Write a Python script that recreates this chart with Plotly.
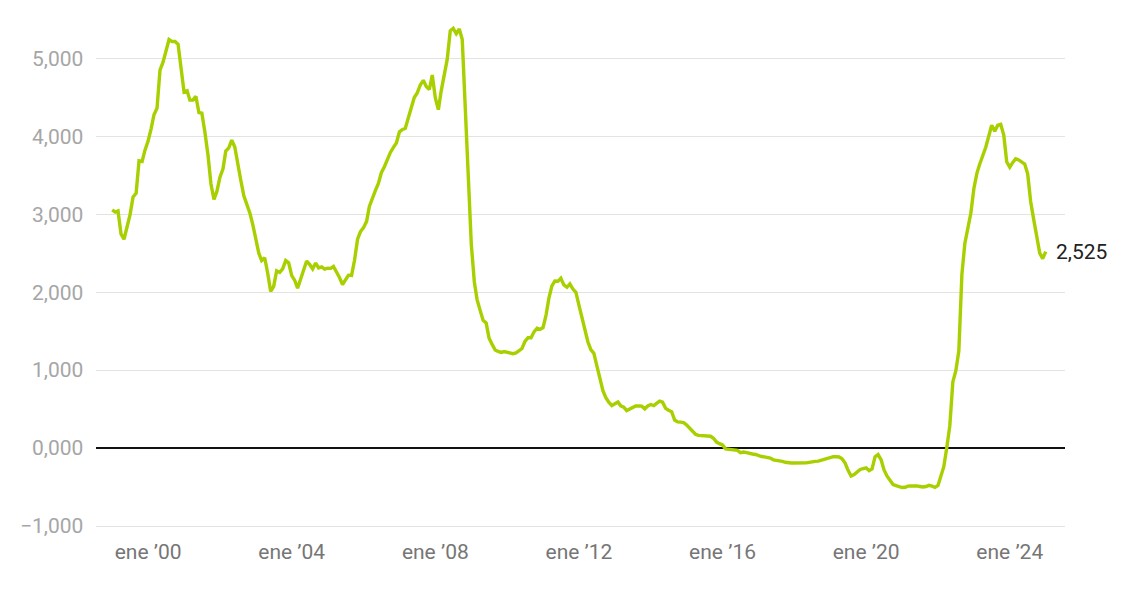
import plotly.graph_objects as go
import pandas as pd

start_month = "1999-01-01"
values = [
    # 1999
    3.062, 3.033, 3.048, 2.749, 2.684, 2.837, 2.997, 3.227, 3.273, 3.692, 3.684, 3.832,
    # 2000
    3.945, 4.106, 4.283, 4.368, 4.857, 4.959, 5.109, 5.250, 5.223, 5.224, 5.188, 4.881,
    # 2001
    4.574, 4.591, 4.471, 4.471, 4.521, 4.312, 4.303, 4.059, 3.770, 3.397, 3.196, 3.298,
    # 2002
    3.481, 3.589, 3.816, 3.859, 3.958, 3.868, 3.636, 3.442, 3.241, 3.129, 3.023, 2.871,
    # 2003
    2.707, 2.502, 2.410, 2.446, 2.254, 2.014, 2.076, 2.279, 2.258, 2.303, 2.410, 2.381,
    # 2004
    2.217, 2.155, 2.055, 2.163, 2.297, 2.404, 2.361, 2.302, 2.377, 2.316, 2.328, 2.301,
    # 2005
    2.312, 2.310, 2.335, 2.265, 2.193, 2.103, 2.168, 2.223, 2.220, 2.414, 2.684, 2.783,
    # 2006
    2.833, 2.914, 3.105, 3.221, 3.308, 3.401, 3.539, 3.615, 3.715, 3.799, 3.864, 3.921,
    # 2007
    4.064, 4.094, 4.106, 4.253, 4.373, 4.505, 4.564, 4.666, 4.725, 4.647, 4.607, 4.793,
    # 2008
    4.498, 4.349, 4.590, 4.820, 4.994, 5.361, 5.393, 5.323, 5.384, 5.248, 4.350, 3.452,
    # 2009
    2.622, 2.135, 1.909, 1.771, 1.644, 1.610, 1.412, 1.334, 1.261, 1.243, 1.231, 1.242,
    # 2010
    1.232, 1.225, 1.215, 1.225, 1.249, 1.281, 1.373, 1.421, 1.420, 1.495, 1.541, 1.526,
    # 2011
    1.550, 1.714, 1.924, 2.086, 2.147, 2.144, 2.183, 2.097, 2.067, 2.110, 2.044, 2.004,
    # 2012
    1.837, 1.678, 1.499, 1.368, 1.266, 1.219, 1.061, 0.877, 0.740, 0.650, 0.588, 0.549,
    # 2013
    0.575, 0.594, 0.545, 0.528, 0.484, 0.507, 0.525, 0.542, 0.543, 0.541, 0.506, 0.543,
    # 2014
    0.562, 0.549, 0.577, 0.604, 0.592, 0.513, 0.488, 0.469, 0.362, 0.338, 0.335, 0.329,
    # 2015
    0.298, 0.255, 0.212, 0.180, 0.165, 0.163, 0.167, 0.161, 0.154, 0.128, 0.079, 0.059,
    # 2016
    0.042, -0.008, -0.012, -0.010, -0.013, -0.028, -0.056, -0.048, -0.057, -0.069, -0.074, -0.080,
    # 2017
    -0.095, -0.106, -0.110, -0.119, -0.127, -0.149, -0.154, -0.156, -0.168, -0.180, -0.189, -0.190,
    # 2018
    -0.189, -0.191, -0.191, -0.190, -0.188, -0.181, -0.180, -0.169, -0.166, -0.154, -0.147, -0.129,
    # 2019
    -0.116, -0.108, -0.109, -0.112, -0.134, -0.190, -0.283, -0.356, -0.339, -0.304, -0.272, -0.261,
    # 2020
    -0.253, -0.288, -0.266, -0.108, -0.081, -0.147, -0.279, -0.359, -0.415, -0.466, -0.481, -0.497,
    # 2021
    -0.505, -0.501, -0.487, -0.484, -0.481, -0.484, -0.491, -0.498, -0.492, -0.477, -0.487, -0.502,
    # 2022
    -0.477, -0.335, -0.237, 0.013, 0.287, 0.852, 0.992, 1.249, 2.233, 2.629, 2.828, 3.018,
    # 2023
    3.337, 3.534, 3.647, 3.757, 3.862, 4.007, 4.149, 4.073, 4.149, 4.160, 4.022, 3.679,
    # 2024
    3.609, 3.671, 3.718, 3.703, 3.680, 3.650, 3.526, 3.166, 2.936, 2.691, 2.506, 2.436,
    # 2025
    2.525,
]
dates = pd.date_range(start_month, periods=len(values), freq="MS")

y_tickvals = [-1, 0, 1, 2, 3, 4, 5]
y_ticktext = ["\u22121,000", "0,000", "1,000", "2,000", "3,000", "4,000", "5,000"]
x_tickvals = ["2000-01-01", "2004-01-01", "2008-01-01", "2012-01-01",
              "2016-01-01", "2020-01-01", "2024-01-01"]
x_ticktext = ["ene \u201900", "ene \u201904", "ene \u201908", "ene \u201912",
              "ene \u201916", "ene \u201920", "ene \u201924"]
last_label = "2,525"

fig = go.Figure()
fig.add_trace(go.Scatter(
    x=dates, y=values, mode="lines",
    line=dict(color="#a8cf00", width=3.4),
    hoverinfo="skip", showlegend=False,
))

# y-axis tick labels as text placed at the axis values
for v, t in zip(y_tickvals, y_ticktext):
    fig.add_annotation(
        xref="paper", x=0, yref="y", y=v, text=t, showarrow=False,
        xanchor="right", yanchor="middle", xshift=-11,
        font=dict(family="Roboto", size=21, color="#a6a6a6"),
    )

fig.add_annotation(
    x=dates[-1], y=values[-1], text=last_label, showarrow=False,
    xanchor="left", yanchor="middle", xshift=8,
    font=dict(family="Roboto", size=21, color="#222222"),
)

fig.update_layout(
    width=1128, height=591,
    margin=dict(l=88, r=71, t=12, b=69),
    paper_bgcolor="white", plot_bgcolor="white",
    font=dict(family="Roboto", size=21, color="#9a9a9a"),
    xaxis=dict(
        range=["1998-07-20", "2025-07-16"],
        tickvals=x_tickvals, ticktext=x_ticktext,
        showgrid=False, zeroline=False, showline=False,
        ticks="", ticklabelstandoff=7,
        tickfont=dict(family="Roboto", size=21, color="#767676"),
    ),
    yaxis=dict(
        range=[-1.05, 5.5],
        tickvals=y_tickvals, showticklabels=False,
        showgrid=True, gridcolor="#e3e3e3", gridwidth=1.2,
        zeroline=True, zerolinecolor="#111111", zerolinewidth=1.8,
        showline=False, ticks="",
    ),
)

fig.write_html("out.html")
